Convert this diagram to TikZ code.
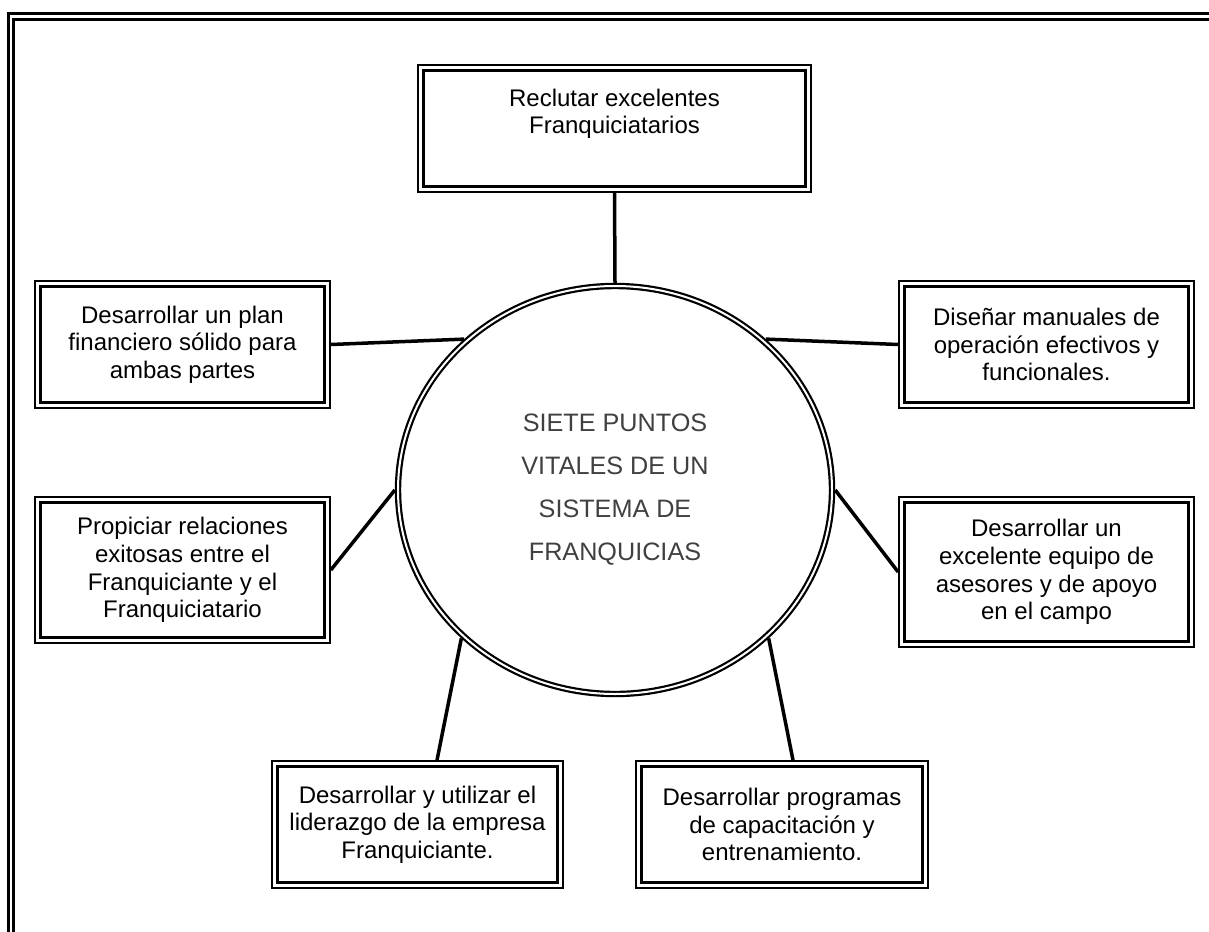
\documentclass[tikz,border=0pt]{standalone}
\usepackage{fontspec}
\setmainfont{Liberation Sans}
\usepackage{tikz}
\usetikzlibrary{shapes.geometric}

\begin{document}
\begin{tikzpicture}[x=0.5pt, y=-0.5pt,
    caja/.style={draw, line width=0.85pt, minimum width=147.5pt, minimum height=63.5pt,
        align=center, inner sep=2pt, font=\fontsize{12}{13.8}\selectfont,
        path picture={\draw [line width=1.35pt]
            ([shift={(2.75pt,-2.75pt)}]path picture bounding box.north west) rectangle
            ([shift={(-2.75pt,2.75pt)}]path picture bounding box.south east);}},
    centro/.style={ellipse, draw, double, line width=1.1pt, double distance=1pt, fill=white,
        minimum width=217pt, minimum height=204pt, outer sep=1.6pt, align=center,
        text=black!75, font=\fontsize{12.6}{21.5}\selectfont},
    enlace/.style={line width=1.75pt}]
    \useasboundingbox (0,0) rectangle (1209,931);
    % marco de la pagina
    \draw [line width=1.5pt] (8.3,940) |- (1220,13.7);
    \draw [line width=1.3pt] (13.7,940) |- (1220,19.5);
    % centro y puntos
    \node [centro] (c) at (615,490) {SIETE PUNTOS\\VITALES DE UN\\SISTEMA DE\\FRANQUICIAS};
    \node [caja, minimum width=196.5pt, text depth=17pt] (recl) at (614.5,128.5) {Reclutar excelentes\\Franquiciatarios};
    \node [caja] (plan) at (182.5,344.5) {Desarrollar un plan\\financiero sólido para\\ambas partes};
    \node [caja] (dis) at (1046.5,344.5) {Diseñar manuales de\\operación efectivos y\\funcionales.};
    \node [caja, minimum height=73pt] (prop) at (182.5,570) {Propiciar relaciones\\exitosas entre el\\Franquiciante y el\\Franquiciatario};
    \node [caja, minimum height=75pt] (ases) at (1046.5,572) {Desarrollar un\\excelente equipo de\\asesores y de apoyo\\en el campo};
    \node [caja, minimum width=145.5pt] (lid) at (417.5,824.5) {Desarrollar y utilizar el\\liderazgo de la empresa\\Franquiciante.};
    \node [caja, minimum width=146pt] (cap) at (782,824.5) {Desarrollar programas\\de capacitación y\\entrenamiento.};
    % enlaces
    \draw [enlace] (recl.south) -- (c.north);
    \draw [enlace] (plan.east) -- (c.135);
    \draw [enlace] (dis.west) -- (c.45);
    \draw [enlace] (prop.east) -- (c.west);
    \draw [enlace] (ases.west) -- (c.east);
    \draw [enlace] ([xshift=9.75pt]lid.north) -- (c.224);
    \draw [enlace] ([xshift=5.5pt]cap.north) -- (c.316);
\end{tikzpicture}
\end{document}
